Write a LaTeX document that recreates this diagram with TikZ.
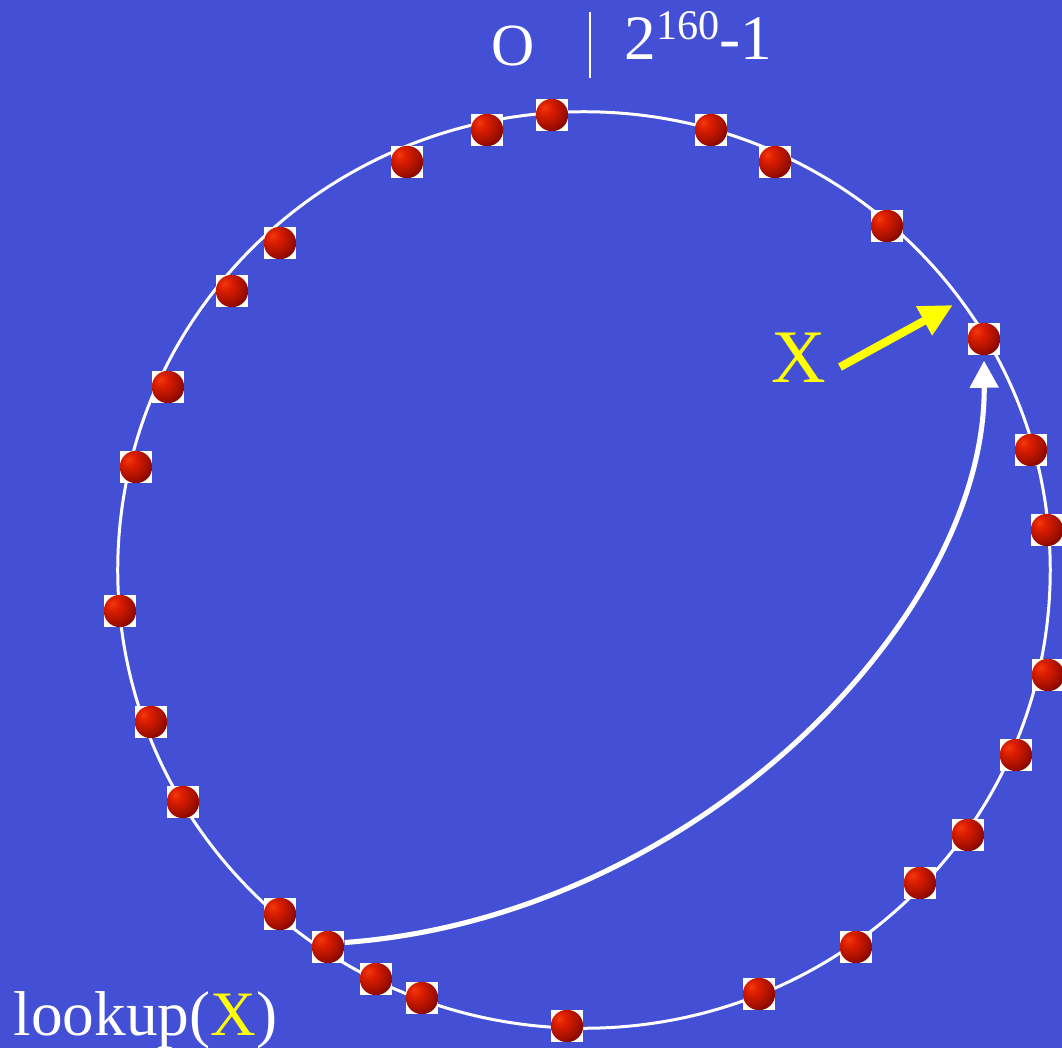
\documentclass[tikz,border=0pt]{standalone}
\usepackage{fontspec}
\setmainfont{Liberation Serif}
\usetikzlibrary{arrows.meta}
\definecolor{slidebg}{RGB}{67,80,214}
\definecolor{xyellow}{RGB}{255,255,0}
\pgfdeclareradialshading{peerball}{\pgfpoint{-12bp}{12bp}}{%
  rgb(0bp)=(0.95,0.22,0.05);
  rgb(10bp)=(0.86,0.12,0.0);
  rgb(28bp)=(0.62,0.05,0.0);
  rgb(44bp)=(0.28,0.01,0.0);
  rgb(56bp)=(0.06,0.0,0.0);
  rgb(80bp)=(0,0,0)}
\tikzset{
  peer/.style={rectangle, fill=white, minimum size=0.32cm, inner sep=0pt,
    path picture={\shade[shading=peerball] (path picture bounding box.center) circle[radius=0.162cm];}},
  ring/.style={draw=white, line width=0.85pt},
  lookuparc/.style={draw=white, line width=1.45pt, -{Triangle[length=0.27cm,width=0.28cm]}},
  keyarrow/.style={draw=xyellow, line width=2.3pt, -{Triangle[length=0.33cm,width=0.31cm]}},
  bigtext/.style={text=white, inner sep=0pt, font=\fontsize{17}{20}\selectfont},
}
\begin{document}
\begin{tikzpicture}[x=0.01cm, y=-0.01cm]
\useasboundingbox (0,0) rectangle (1062,1048);
\fill[slidebg] (0,0) rectangle (1062,1048);
% identifier ring
\draw[ring] (584,570) ellipse [x radius=4.66cm, y radius=4.58cm];
% peers
\foreach \n/\x/\y in {1/552/115, 2/711/130, 3/775/162, 4/887/226, 5/984/339,
  6/1031/450, 7/1047/530, 8/1048/675, 9/1016/755, 10/968/835, 11/920/883,
  12/856/947, 13/759/994, 14/567/1026, 15/422/998, 16/376/979, 17/328/947,
  18/280/914, 19/183/802, 20/151/722, 21/120/611, 22/136/467, 23/168/387,
  24/232/291, 25/280/243, 26/407/162, 27/487/130}
  \node[peer] (p\n) at (\x,\y) {};
% lookup path
\draw[lookuparc, shorten >=0.05cm] (p17.15) .. controls (693,917) and (986,620) .. (p5.south);
% labels
\node[bigtext, anchor=base] (zero) at (513,65) {O};
\node[text=white, inner sep=0pt, font=\fontsize{18}{21}\selectfont, anchor=base west] (max) at (624,59)
  {2{\fontsize{12}{14}\selectfont\raisebox{0.19cm}{160}}-1};
\coordinate (bartop) at (590,12);
\coordinate (barbot) at (590,78);
\draw[white, line width=0.85pt] (bartop) -- (barbot);
\node[text=xyellow, inner sep=0pt, font=\fontsize{21.5}{24}\selectfont, anchor=base] (xl) at (799,382) {X};
\coordinate (xs) at (840,367);
\coordinate (xt) at (953,305);
\draw[keyarrow] (xs) -- (xt);
\node[text=white, inner sep=0pt, font=\fontsize{18}{21}\selectfont, anchor=base west] (lk) at (13,1035) {lookup(\textcolor{xyellow}{X})};
\end{tikzpicture}
\end{document}
